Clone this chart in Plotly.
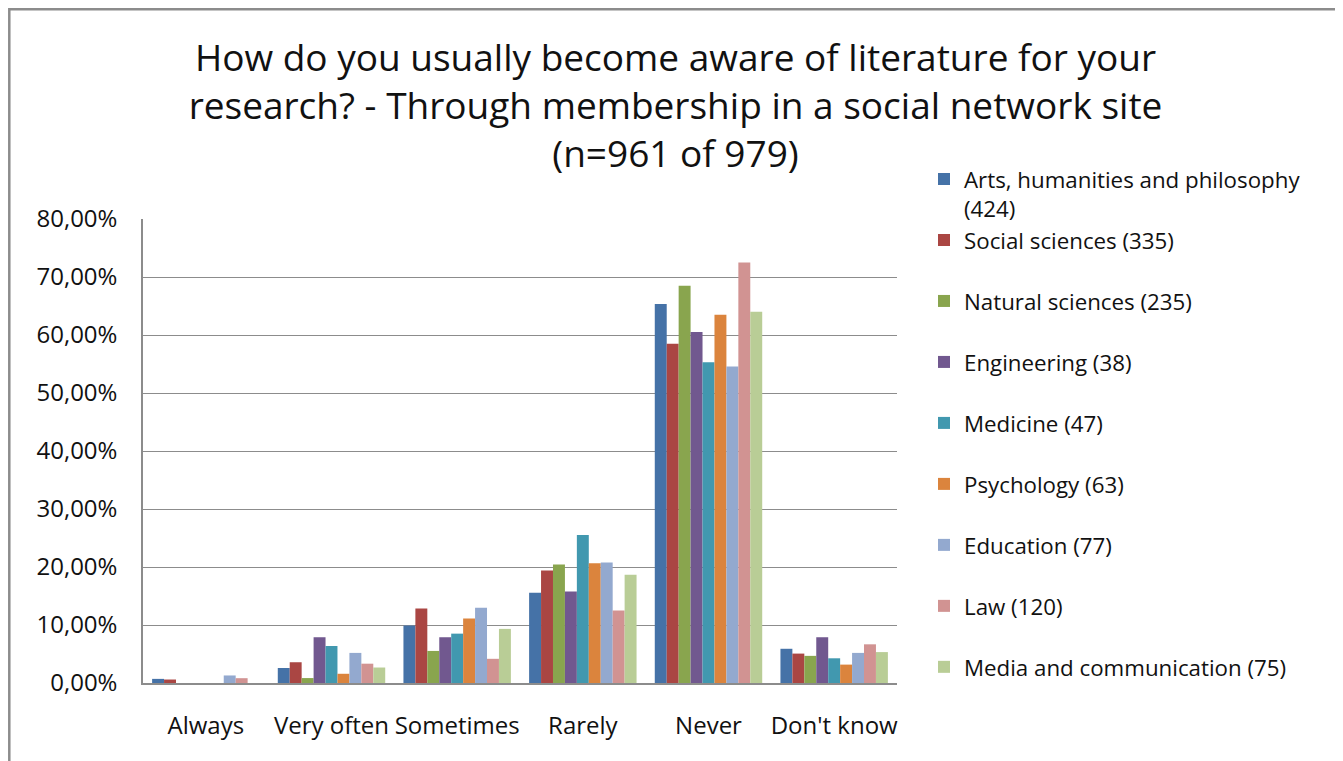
import plotly.graph_objects as go

# the page body adds an 8px margin, so the figure is laid out in page pixels minus 8
OFF = 8
W, H = 1343 - OFF, 761 - OFF
# plot area in page pixels
X0, X1, Y0, Y1 = 143, 897, 219, 683

categories = ["Always", "Very often", "Sometimes", "Rarely", "Never", "Don't know"]

arts = [0.71, 2.59, 9.91, 15.57, 65.33, 5.90]
social = [0.60, 3.58, 12.84, 19.40, 58.51, 5.07]
natural = [0.00, 0.85, 5.53, 20.43, 68.51, 4.68]
engineering = [0.00, 7.89, 7.89, 15.79, 60.53, 7.89]
medicine = [0.00, 6.38, 8.51, 25.53, 55.32, 4.26]
psychology = [0.00, 1.59, 11.11, 20.63, 63.49, 3.17]
education = [1.30, 5.19, 12.99, 20.78, 54.55, 5.19]
law = [0.83, 3.33, 4.17, 12.50, 72.50, 6.67]
media = [0.00, 2.67, 9.33, 18.67, 64.00, 5.33]

series_names = [
    "Arts, humanities and philosophy<br>(424)",
    "Social sciences (335)",
    "Natural sciences (235)",
    "Engineering (38)",
    "Medicine (47)",
    "Psychology (63)",
    "Education (77)",
    "Law (120)",
    "Media and communication (75)",
]
series_values = [arts, social, natural, engineering, medicine,
                 psychology, education, law, media]
colors = ["#4572A7", "#AA4643", "#89A54E", "#71588F", "#4198AF",
          "#DB843D", "#93A9CF", "#D19392", "#B9CD96"]

FONT = "Open Sans, Noto Sans, sans-serif"
INK = "#111111"
FRAME = "#8c8c8c"


def px(x):
    return (x - X0) / (X1 - X0)


def py(y):
    return (Y1 - y) / (Y1 - Y0)


fig = go.Figure()
for name, vals, col in zip(series_names, series_values, colors):
    # single-line entries padded to two lines so the legend spacing is even
    label = name if "<br>" in name else name + "<br> "
    fig.add_trace(go.Bar(x=categories, y=vals, name=label,
                         marker=dict(color=col, line=dict(width=0)),
                         hovertemplate="%{x}: %{y:.2f}%<extra></extra>"))

# chart frame (its bottom edge runs below the window)
frame = dict(type="rect", xref="paper", yref="paper",
             x0=px(9.3), x1=px(1337), y0=py(790), y1=py(9.3),
             line=dict(color=FRAME, width=2.5), layer="below")

fig.update_layout(
    width=W, height=H,
    margin=dict(l=X0 - OFF, r=W - (X1 - OFF), t=Y0 - OFF, b=H - (Y1 - OFF)),
    paper_bgcolor="white", plot_bgcolor="white",
    font=dict(family=FONT, color=INK),
    separators=",.",
    barmode="group", bargap=0.145, bargroupgap=0,
    title=dict(text="How do you usually become aware of literature for your<br>"
                    "research? - Through membership in a social network site<br>"
                    "(n=961 of 979)",
               font=dict(size=37, color=INK), x=0.5, xanchor="center",
               y=1 - 63 / H, yanchor="top", yref="container"),
    xaxis=dict(showline=True, linecolor=FRAME, linewidth=1.5, showgrid=False,
               ticks="", tickfont=dict(size=24, color=INK), ticklabelstandoff=20),
    yaxis=dict(range=[0, 80], dtick=10, tickformat=".2f", ticksuffix="%",
               showline=True, linecolor=FRAME, linewidth=1.5,
               showgrid=True, gridcolor=FRAME, gridwidth=1.3, zeroline=False,
               ticks="", tickfont=dict(size=24, color=INK), ticklabelstandoff=19),
    legend=dict(x=px(924), xanchor="left", y=py(158), yanchor="top",
                font=dict(size=22.3, color=INK), valign="top", maxheight=640,
                bgcolor="rgba(0,0,0,0)", traceorder="normal"),
    shapes=[frame],
)

fig.write_html("out.html")
